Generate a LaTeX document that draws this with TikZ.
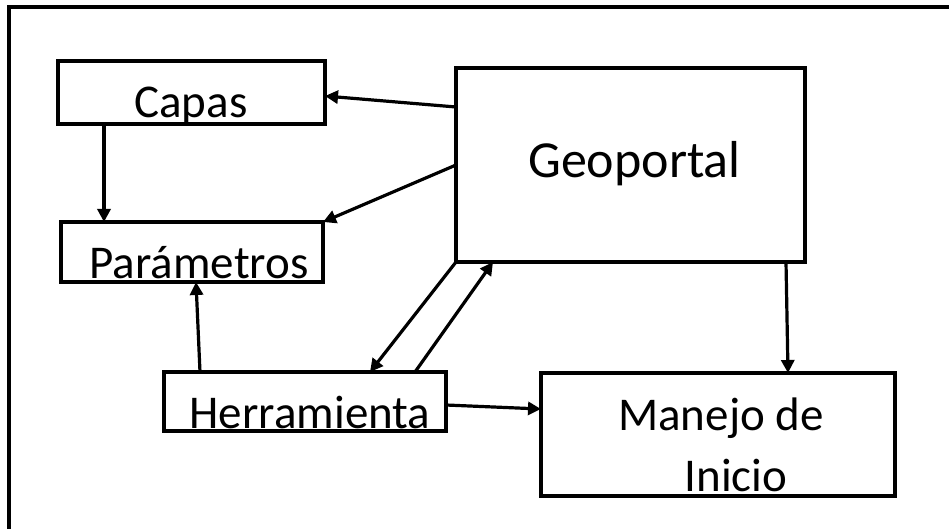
\documentclass[tikz,border=0pt]{standalone}
\usepackage{fontspec}
\setmainfont{Carlito}
\usetikzlibrary{arrows.meta}
\begin{document}
\begin{tikzpicture}[x=1pt,y=-1pt,
  box/.style={draw, line width=3.2pt, inner sep=0pt, outer sep=0pt},
  lbl/.style={anchor=base, inner sep=0pt, font=\fontsize{47}{50}\selectfont},
  conn/.style={line width=3.2pt, -{Triangle[length=13pt,width=13pt]}}]
\clip (0,0) rectangle (949,529);
\fill[white] (0,0) rectangle (949,529);
% outer frame (only left and top visible)
\coordinate (fbl) at (9,560);
\coordinate (ftl) at (9,7);
\coordinate (ftr) at (980,7);
\draw[line width=3.4pt] (fbl) -- (ftl) -- (ftr);
% boxes
\node[box, minimum width=267pt, minimum height=63pt] (capas) at (191.5,92.5) {};
\node[box, minimum width=262pt, minimum height=60pt] (param) at (192,252) {};
\node[box, minimum width=349pt, minimum height=194pt] (geo) at (630.5,165) {};
\node[box, minimum width=282pt, minimum height=59pt] (herr) at (305,401.5) {};
\node[box, minimum width=354pt, minimum height=123pt] (manejo) at (718,434.5) {};
% labels
\node[lbl] (tcapas) at (191,118) {Capas};
\node[lbl] (tparam) at (199,278) {Parámetros};
\node[lbl, font=\fontsize{52}{56}\selectfont] (tgeo) at (634.5,178) {Geoportal};
\node[lbl] (therr) at (310,428) {Herramienta};
\node[lbl] (tman1) at (721,430) {Manejo de};
\node[lbl] (tman2) at (736,491) {Inicio};
% connectors
\draw[conn] ([yshift=-39pt]geo.north west) -- ([yshift=-3.5pt]capas.east);
\draw[conn] (geo.west) -- (param.north east);
\draw[conn] ([xshift=46pt]capas.south west) -- ([xshift=43pt]param.north west);
\draw[conn] ([xshift=36pt]herr.north west) -- ([xshift=135pt]param.south west);
\draw[conn] (geo.south west) -- ([xshift=206pt]herr.north west);
\draw[conn] ([xshift=251pt]herr.north west) -- ([xshift=37pt]geo.south west);
\draw[conn] ([yshift=-3.5pt]herr.east) -- ([yshift=25.5pt]manejo.west);
\draw[conn] ([xshift=-19pt]geo.south east) -- ([xshift=-107pt]manejo.north east);
\end{tikzpicture}
\end{document}
